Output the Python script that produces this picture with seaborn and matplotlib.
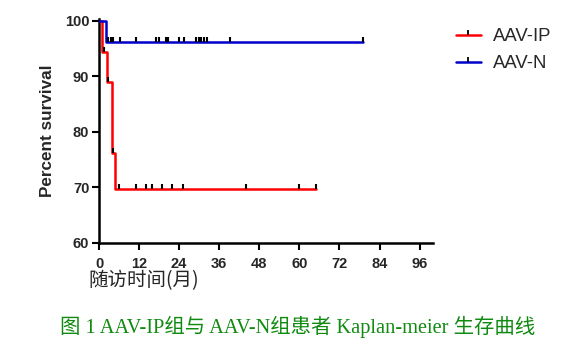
import numpy as np
import pandas as pd
import matplotlib
matplotlib.use("Agg")
import matplotlib.pyplot as plt
import seaborn as sns
from matplotlib.lines import Line2D

# ---- data ----
groups = ["AAV-IP", "AAV-N"]
colors = {"AAV-IP": "#ff0000", "AAV-N": "#0000cc"}

ip_times = [0, 1.0, 2.5, 3.9, 4.9, 65.0]
ip_surv = [100, 94.4, 88.9, 76.2, 69.8, 69.8]
ip_censor = [1.5, 2.6, 4.1, 6.0, 11.0, 14.0, 16.0, 19.0, 22.0, 25.0, 44.0, 60.0, 65.0]

n_times = [0, 2.0, 79.0]
n_surv = [100, 96.2, 96.2]
n_censor = [2.8, 3.5, 4.3, 6.2, 11.0, 17.2, 18.0, 20.0, 20.8, 24.0, 25.4,
            29.0, 29.8, 30.5, 31.3, 32.2, 39.1, 79.0]

xticks = [0, 12, 24, 36, 48, 60, 72, 84, 96]
yticks = [60, 70, 80, 90, 100]
ylabel = "Percent survival"
xlabel = "随访时间(月)"
caption = "图 1 AAV-IP组与 AAV-N组患者 Kaplan-meier 生存曲线"

# ---- build tables ----
curve_df = pd.concat([
    pd.DataFrame({"time": ip_times, "surv": ip_surv, "group": "AAV-IP"}),
    pd.DataFrame({"time": n_times, "surv": n_surv, "group": "AAV-N"}),
], ignore_index=True)


def step_value(times, surv, t):
    i = np.searchsorted(times, t, side="right") - 1
    return surv[max(i, 0)]


cens_df = pd.concat([
    pd.DataFrame({"time": ip_censor,
                  "surv": [step_value(ip_times, ip_surv, t) for t in ip_censor],
                  "group": "AAV-IP"}),
    pd.DataFrame({"time": n_censor,
                  "surv": [step_value(n_times, n_surv, t) for t in n_censor],
                  "group": "AAV-N"}),
], ignore_index=True)

# ---- figure ----
sns.set_style("ticks")
plt.rcParams["font.family"] = ["Liberation Sans", "DejaVu Sans"]

fig = plt.figure(figsize=(5.79, 3.60), dpi=100)
ax = fig.add_axes([99 / 579, 1 - 243 / 360, (433 - 99) / 579, (243 - 19) / 360])

tick_marker = [(0, 0), (0, 1)]

for g in groups:
    sub = curve_df[curve_df.group == g]
    sns.lineplot(data=sub, x="time", y="surv", ax=ax, color=colors[g],
                 drawstyle="steps-post", linewidth=1.8, sort=False,
                 estimator=None, legend=False, zorder=3)

for g in groups:
    sub = cens_df[cens_df.group == g]
    sns.scatterplot(data=sub, x="time", y="surv", ax=ax, marker=tick_marker,
                    s=60, color="black", edgecolor="black", linewidth=1.5,
                    legend=False, zorder=4)

ax.set_xlim(0, 100)
ax.set_ylim(60, 100.3)
ax.set_xticks(xticks)
ax.set_yticks(yticks)
ax.set_xticklabels([str(v) for v in xticks], fontsize=10.5, fontweight="bold")
ax.set_yticklabels([str(v) for v in yticks], fontsize=10.5, fontweight="bold")
ax.tick_params(axis="both", direction="out", length=5, width=1.5, color="black")
ax.tick_params(axis="x", pad=5)
ax.tick_params(axis="y", pad=2)
for side in ["top", "right"]:
    ax.spines[side].set_visible(False)
for side in ["left", "bottom"]:
    ax.spines[side].set_linewidth(1.8)
    ax.spines[side].set_color("black")
ax.set_xlabel("")
ax.set_ylabel(ylabel, fontsize=12.3, fontweight="bold", labelpad=7)

# legend
handles = [Line2D([0], [0], color=colors[g], lw=1.8, marker=tick_marker,
                  markersize=7, markeredgecolor="black", markeredgewidth=1.3)
           for g in groups]
fig.legend(handles, groups, loc="upper left", bbox_to_anchor=(456 / 579, 1 - 28 / 360),
           frameon=False, fontsize=13.3, handlelength=1.35, handletextpad=0.65,
           labelspacing=0.55, borderpad=0, borderaxespad=0)

fig.text(88 / 579, 1 - 281 / 360, xlabel, fontsize=14, va="center", ha="left",
         family=["Noto Sans CJK SC", "DejaVu Sans"])
fig.text(298 / 579, 1 - 327 / 360, caption, fontsize=14.7, va="center", ha="center",
         color="#108a10", family=["Liberation Serif", "Noto Sans CJK SC"])

fig.savefig("out.png", dpi=100)
